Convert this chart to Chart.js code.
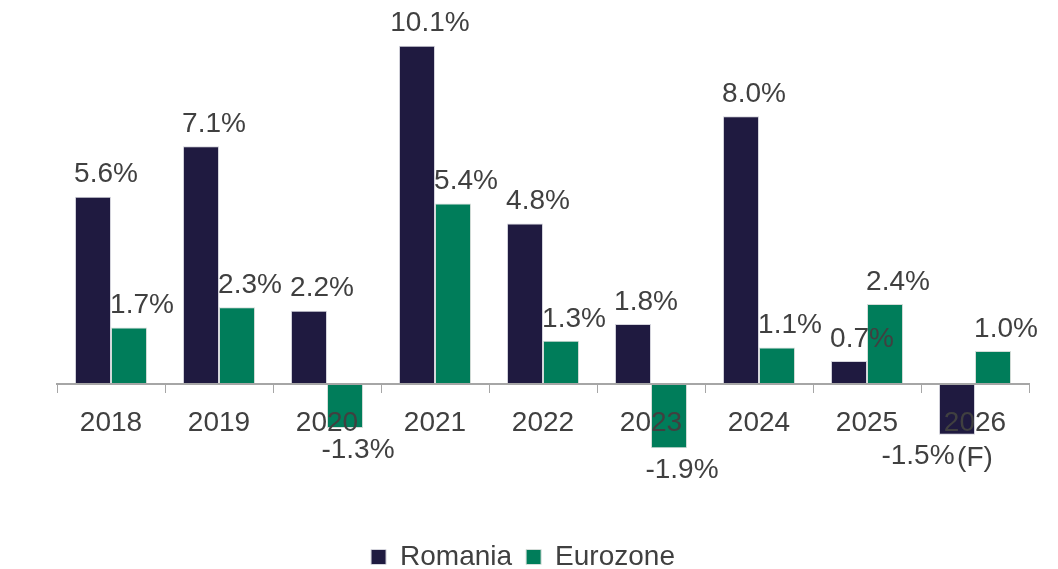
<!DOCTYPE html>
<html>
<head>
<meta charset="utf-8">
<script src="https://cdn.jsdelivr.net/npm/chart.js@4/dist/chart.umd.min.js"></script>
<style>
  html, body { margin: 0; padding: 0; background: #fff; }
  #wrap { width: 1058px; height: 569px; }
</style>
</head>
<body>
<div id="wrap"><canvas id="gdp"></canvas></div>
<script>
const years = ['2018', '2019', '2020', '2021', '2022', '2023', '2024', '2025', ['2026', '(F)']];
const romania = [5.6, 7.1, 2.2, 10.1, 4.8, 1.8, 8.0, 0.7, -1.5];
const eurozone = [1.7, 2.3, -1.3, 5.4, 1.3, -1.9, 1.1, 2.4, 1.0];

const textColor = '#404040';
const fontFamily = '"Liberation Sans", Arial, sans-serif';

// draw "x.x%" above positive bars, below negative ones
const valueLabels = {
  id: 'valueLabels',
  afterDatasetsDraw(chart) {
    const ctx = chart.ctx;
    const last = years.length - 1;
    ctx.save();
    ctx.font = '28px ' + fontFamily;
    ctx.fillStyle = textColor;
    ctx.textAlign = 'center';
    chart.data.datasets.forEach((ds, i) => {
      chart.getDatasetMeta(i).data.forEach((bar, j) => {
        const v = ds.data[j];
        const txt = v.toFixed(1) + '%';
        if (v >= 0) {
          ctx.textBaseline = 'bottom';
          ctx.fillText(txt, bar.x + 13, bar.y - 8);
        } else {
          // last label is nudged left so it clears the "(F)" tick line
          const dx = j === last ? -39 : 13;
          ctx.textBaseline = 'top';
          ctx.fillText(txt, bar.x + dx, bar.y + 8);
        }
      });
    });
    ctx.restore();
  }
};

new Chart(document.getElementById('gdp').getContext('2d'), {
  type: 'bar',
  data: {
    labels: years,
    datasets: [
      { label: 'Romania', data: romania, backgroundColor: '#1f1a40', borderColor: '#d4d4dc', borderWidth: 1 },
      { label: 'Eurozone', data: eurozone, backgroundColor: '#007d5a', borderColor: '#d4dcd8', borderWidth: 1 }
    ]
  },
  options: {
    responsive: true,
    maintainAspectRatio: false,
    animation: false,
    layout: { padding: { top: 30, left: 17, right: 29, bottom: -12 } },
    datasets: { bar: { categoryPercentage: 0.667, barPercentage: 1 } },
    plugins: {
      tooltip: { enabled: false },
      legend: {
        position: 'bottom',
        labels: {
          color: textColor,
          font: { family: fontFamily, size: 28, lineHeight: 1 },
          boxWidth: 15,
          boxHeight: 15,
          padding: 14
        }
      }
    },
    scales: {
      x: {
        position: { y: 0 },
        grid: { display: true, drawOnChartArea: false, drawTicks: true, tickLength: 8, color: '#a6a6a6', offset: true },
        border: { display: true, color: '#a6a6a6', width: 2, z: 1 },
        ticks: { z: 1, color: textColor, font: { family: fontFamily, size: 28, lineHeight: 1.25 }, padding: 13, maxRotation: 0, autoSkip: false }
      },
      y: {
        min: -4.31,
        max: 10.57,
        grid: { display: false },
        border: { display: false },
        ticks: { display: false },
        afterFit: (s) => { s.width = 40; }
      }
    }
  },
  plugins: [valueLabels]
});
</script>
</body>
</html>
